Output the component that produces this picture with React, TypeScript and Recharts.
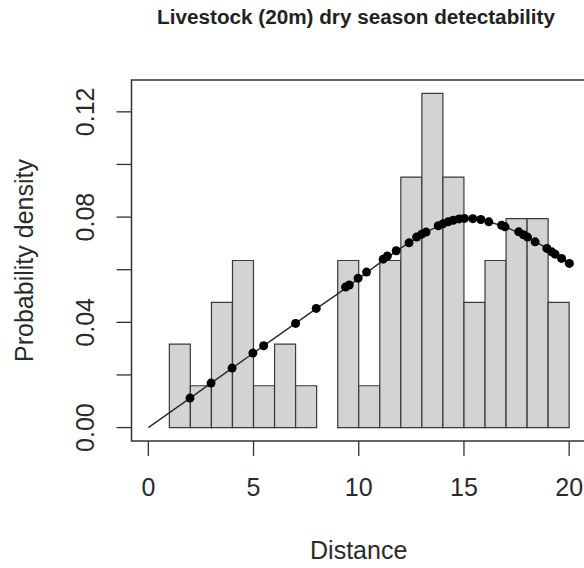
import { ComposedChart, Bar, Line, Scatter, XAxis, YAxis, ReferenceArea } from "recharts";

const FONT = "'Liberation Sans', Arial, Helvetica, sans-serif";

// histogram bins (width 1) and their probability density
const binLabels = [
  "0-1", "1-2", "2-3", "3-4", "4-5", "5-6", "6-7", "7-8", "8-9", "9-10",
  "10-11", "11-12", "12-13", "13-14", "14-15", "15-16", "16-17", "17-18", "18-19", "19-20",
];
const binDensity = [
  0, 0.0317, 0.0159, 0.0476, 0.0635, 0.0159, 0.0317, 0.0159, 0, 0.0635,
  0.0159, 0.0635, 0.0952, 0.127, 0.0952, 0.0476, 0.0635, 0.0794, 0.0794, 0.0476,
];

// fitted pdf line
const curveX = [0, 2, 4, 6, 8, 9, 10, 11, 12, 13, 14, 14.5, 15, 15.5, 16, 17, 18, 19, 20];
const curveY = [
  0, 0.0113, 0.0227, 0.034, 0.0453, 0.0508, 0.0566, 0.0626, 0.0682, 0.0735,
  0.0774, 0.0788, 0.0795, 0.0794, 0.0787, 0.0762, 0.0726, 0.0678, 0.0624,
];

// observed distances plotted on the curve
const dotX = [
  1.98, 2.98, 3.98, 4.97, 5.48, 7.0, 7.98, 9.37, 9.55, 9.97, 10.37, 11.16, 11.36, 11.78,
  12.39, 12.75, 12.99, 13.2, 13.78, 14.01, 14.25, 14.49, 14.77, 15.02, 15.42, 15.8, 16.18,
  16.79, 16.95, 17.6, 17.83, 18.02, 18.38, 18.94, 19.17, 19.33, 19.64, 20.01,
];
const dotY = [
  0.0112, 0.0169, 0.0226, 0.0283, 0.0311, 0.0396, 0.0453, 0.0534, 0.0542, 0.0568, 0.0591,
  0.064, 0.0652, 0.0672, 0.0702, 0.0724, 0.0735, 0.0743, 0.0767, 0.0775, 0.0782, 0.0788,
  0.0793, 0.0795, 0.0794, 0.0791, 0.0782, 0.0769, 0.0763, 0.0744, 0.0733, 0.0724, 0.0706,
  0.0681, 0.0668, 0.0659, 0.0643, 0.0624,
];

const xTicks = [0, 5, 10, 15, 20];
const yTicks = [0, 0.02, 0.04, 0.06, 0.08, 0.1, 0.12];
const yTickLabels = [0, 0.04, 0.08, 0.12];

const xDomain = [-0.8, 20.8];
const yDomain = [-0.0051, 0.1321];

const bars = binLabels.map((bin, i) => ({ bin, density: binDensity[i] }));
const curve = curveX.map((x, i) => ({ x, y: curveY[i] }));
const dots = dotX.map((x, i) => ({ x, y: dotY[i] }));

function XTick({ x, y, payload }: any) {
  return (
    <text x={x} y={y + 31} textAnchor="middle" dominantBaseline="central" fontSize={25} fill="#2a2a2a" fontFamily={FONT}>
      {payload.value}
    </text>
  );
}

function YTick({ x, y, payload }: any) {
  const show = yTickLabels.some((v) => Math.abs(v - payload.value) < 1e-9);
  if (!show) return null;
  const cx = x - 31.5;
  return (
    <text
      x={cx}
      y={y}
      transform={`rotate(-90, ${cx}, ${y})`}
      textAnchor="middle"
      dominantBaseline="central"
      fontSize={25}
      fill="#2a2a2a"
      fontFamily={FONT}
    >
      {payload.value.toFixed(2)}
    </text>
  );
}

const Dot = ({ cx, cy }: any) => <circle cx={cx} cy={cy} r={4.5} fill="#000" />;

// plot frame drawn over the whole plotting region
const Frame = ({ x, y, width, height }: any) => (
  <rect x={x} y={y} width={width} height={height} fill="none" stroke="#333" strokeWidth={1.5} />
);

export default function App() {
  return (
    <div style={{ position: "absolute", left: 0, top: 0, width: 584, height: 568, overflow: "hidden", background: "#fff" }}>
      <div
        style={{
          position: "absolute",
          left: 0,
          top: 6.5,
          width: 712,
          textAlign: "center",
          fontFamily: FONT,
          fontWeight: "bold",
          fontSize: 20.7,
          lineHeight: "20px",
          color: "#222",
        }}
      >
        Livestock (20m) dry season detectability
      </div>
      <div style={{ position: "absolute", left: 0, top: 0 }}>
        <ComposedChart
          width={590}
          height={568}
          data={bars}
          margin={{ top: 80, right: 4, bottom: 0, left: 0 }}
          barCategoryGap={0}
          barGap={0}
        >
          <XAxis xAxisId="bins" dataKey="bin" type="category" hide height={0} padding={{ left: 16.8, right: 16.8 }} />
          <XAxis
            xAxisId="num"
            dataKey="x"
            type="number"
            domain={xDomain}
            allowDataOverflow
            ticks={xTicks}
            height={127}
            tickSize={15}
            tickMargin={0}
            axisLine={false}
            tickLine={{ stroke: "#333", strokeWidth: 1.3 }}
            tick={<XTick />}
            label={() => (
              <text x={358.7} y={550} textAnchor="middle" dominantBaseline="central" fontSize={25} fill="#2a2a2a" fontFamily={FONT}>
                Distance
              </text>
            )}
          />
          <YAxis
            type="number"
            domain={yDomain}
            allowDataOverflow
            ticks={yTicks}
            width={131.5}
            tickSize={15}
            tickMargin={0}
            axisLine={false}
            tickLine={{ stroke: "#333", strokeWidth: 1.3 }}
            tick={<YTick />}
            label={() => (
              <text
                x={24}
                y={260.5}
                transform="rotate(-90, 24, 260.5)"
                textAnchor="middle"
                dominantBaseline="central"
                fontSize={25}
                fill="#2a2a2a"
                fontFamily={FONT}
              >
                Probability density
              </text>
            )}
          />
          <Bar xAxisId="bins" dataKey="density" fill="#d3d3d3" stroke="#3a3a3a" strokeWidth={1.2} isAnimationActive={false} />
          <Line
            xAxisId="num"
            data={curve}
            dataKey="y"
            type="linear"
            stroke="#2a2a2a"
            strokeWidth={1.4}
            dot={false}
            activeDot={false}
            isAnimationActive={false}
          />
          <Scatter xAxisId="num" data={dots} dataKey="y" shape={<Dot />} isAnimationActive={false} />
          <ReferenceArea
            xAxisId="num"
            x1={xDomain[0]}
            x2={xDomain[1]}
            y1={yDomain[0]}
            y2={yDomain[1]}
            shape={<Frame />}
            ifOverflow="visible"
          />
        </ComposedChart>
      </div>
    </div>
  );
}
